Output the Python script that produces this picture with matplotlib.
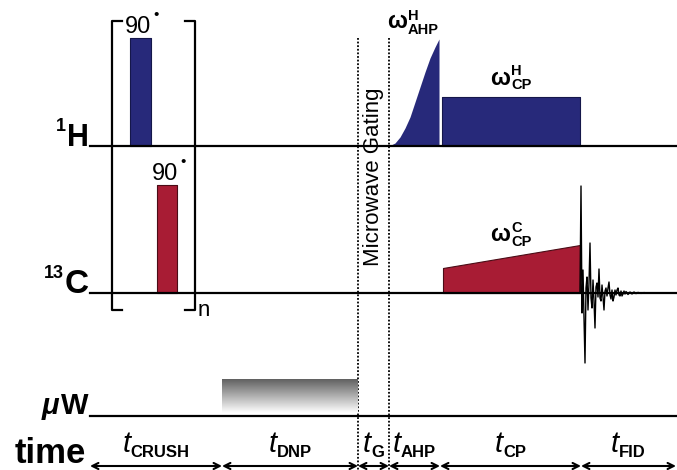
import numpy as np
import matplotlib.pyplot as plt

plt.rcParams['font.family'] = ['Liberation Sans', 'DejaVu Sans']

# time segments of the sequence (schematic units)
time_bounds = [90, 222, 358, 389, 440, 581, 676]
time_labels = ['CRUSH', 'DNP', 'G', 'AHP', 'CP', 'FID']

# 90 degree pulses (start, end, amplitude)
h90 = [130, 151, 108]
c90 = [157, 177, 108]

# adiabatic half passage on 1H
ahp_t = [389, 395, 400, 405, 410, 415, 420, 425, 430, 435, 439]
ahp_amp = [0, 3, 9, 18, 29, 44, 59, 74, 88, 99, 107]

# cross polarisation
cp_h = [442, 580, 49]
cp_c_t = [443, 580]
cp_c_amp = [25, 48]

# FID on 13C
fid_t = [580, 581, 582, 583, 584, 585, 586, 587, 588, 589, 590, 591, 592, 593,
         594, 595, 596, 597, 598, 599, 600, 601, 602, 603, 604, 605, 606, 607,
         608, 609, 610, 611, 612, 613, 614, 615, 616, 617, 618, 619, 620, 621,
         622, 623, 624, 625, 626, 628, 630, 632, 634, 636, 638, 641, 644, 648, 677]
fid_amp = [0, 107, -20, 23, -25, -70, 5, 16, -17, 10, 50, -5, -15, 13,
           -8, -35, 6, 10, -4, 24, -5, -8, 8, -4, -17, 2, 5, -3,
           5, 11, -2, -6, 3, -8, -4, 3, -2, 3, 5, -2, -3, 2,
           -3, -1, 2, -1, 1.5, -1.5, 1, -1, 1, -0.6, 0.6, -0.4, 0.4, 0, 0]

# microwave on during DNP
uw = [222, 358, 34]

# layout (axis units = pixels)
y_h, y_c, y_uw, y_time = 146, 293, 416, 466
blue = '#27297a'
red = '#a81c34'
narrow = ['Liberation Sans Narrow', 'Liberation Sans', 'DejaVu Sans']

fig = plt.figure(figsize=(6.77, 4.70), dpi=100)
ax = fig.add_axes([0, 0, 1, 1])
ax.set_xlim(0, 677)
ax.set_ylim(470, 0)
ax.axis('off')
rend = fig.canvas.get_renderer()


def width(t):
    return t.get_window_extent(rend).width


def scripted(x, y, main, sup=None, sub=None, size=17, ssize=10.5, dsup=-9, dsub=5,
             sfam=None):
    # main glyph with optional super/subscript, left edge at x
    m = ax.text(x, y, main, fontsize=size, fontweight='bold', ha='left', va='baseline')
    xs = x + width(m) + 1
    skw = dict(fontsize=ssize, fontweight='bold', ha='left', va='baseline')
    if sfam:
        skw['family'] = sfam
    if sup:
        ax.text(xs, y + dsup, sup, **skw)
    if sub:
        ax.text(xs, y + dsub, sub, **skw)


def channel(xr, y, main, pre, size=22, psize=13, dpre=-15, pre_kw=None):
    # right aligned channel name ending at xr
    m = ax.text(xr, y, main, fontsize=size, fontweight='bold', ha='right', va='baseline')
    kw = dict(fontsize=psize, fontweight='bold', ha='right', va='baseline')
    kw.update(pre_kw or {})
    ax.text(xr - width(m) - 1, y + dpre, pre, **kw)


# channel lines
for y in (y_h, y_c, y_uw):
    ax.plot([90, 677], [y, y], color='black', lw=1.6, zorder=3)

# 90 pulses
ax.fill_between(h90[:2], y_h, y_h - h90[2], color=blue, ec='#15174a', lw=0.8)
ax.fill_between(c90[:2], y_c, y_c - c90[2], color=red, ec='#4a0c16', lw=0.8)
for p, y in ((h90, y_h), (c90, y_c)):
    xm = (p[0] + p[1]) / 2
    ax.text(xm - 2, y - p[2] - 5, '90', fontsize=17, ha='center', va='baseline')
    ax.text(xm + 16, y - p[2] - 19, '•', fontsize=11, ha='center', va='baseline')

# bracket around crusher loop
for xb, d in ((112, 1), (195, -1)):
    ax.plot([xb + 10 * d, xb, xb, xb + 10 * d], [21, 21, 310, 310], color='black', lw=1.6)
ax.text(198, 316, 'n', fontsize=16, ha='left', va='baseline')

# AHP and CP on 1H
ax.fill_between(ahp_t, y_h, y_h - np.array(ahp_amp), color=blue, lw=0)
ax.fill_between(cp_h[:2], y_h, y_h - cp_h[2], color=blue, ec='#15174a', lw=0.8)

# CP ramp on 13C
ax.fill_between(cp_c_t, y_c, y_c - np.array(cp_c_amp), color=red, ec='#4a0c16', lw=0.8)

# FID
ax.plot(fid_t, y_c - np.array(fid_amp), color='black', lw=1.0, zorder=4)

# microwave gradient block
grad = np.linspace(0.38, 1.0, 100).reshape(-1, 1)
ax.imshow(grad, cmap='gray', vmin=0, vmax=1, aspect='auto',
          extent=[uw[0], uw[1], y_uw - 3, y_uw - 3 - uw[2]], zorder=2)

# dotted gating lines
for xd in time_bounds[2:4]:
    ax.plot([xd, xd], [38, 470], color='black', lw=1.3, ls=(0, (1, 1)), zorder=1)
ax.text((time_bounds[2] + time_bounds[3]) / 2, 177, 'Microwave Gating', fontsize=16,
        rotation=90, ha='center', va='center')

# omega labels
scripted(387, 28, 'ω', 'H', 'AHP', dsup=-8, dsub=6, sfam=narrow)
scripted(490, 85, 'ω', 'H', 'CP', dsup=-10, dsub=4, sfam=narrow)
scripted(490, 241, 'ω', 'C', 'CP', dsup=-9, dsub=5, sfam=narrow)

# channel names
channel(89, y_h, 'H', '1')
channel(89, y_c, 'C', '13', size=24)
channel(88, 414, 'W', 'μ', size=21, psize=21, dpre=0, pre_kw=dict(style='italic'))
ax.text(86, 463, 'time', fontsize=25, fontweight='bold', ha='right', va='baseline')

# time arrows and labels
for i, lab in enumerate(time_labels):
    x0, x1 = time_bounds[i], time_bounds[i + 1]
    ax.annotate('', xy=(x1, y_time), xytext=(x0, y_time),
                arrowprops=dict(arrowstyle='<->', lw=1.5, mutation_scale=11,
                                shrinkA=0, shrinkB=0, color='black'))
    t1 = ax.text(0, 452, 't', fontsize=21, style='italic', ha='left', va='baseline')
    t2 = ax.text(0, 457, lab, fontsize=12, fontweight='bold', ha='left', va='baseline')
    w1, w2 = width(t1), width(t2)
    xl = (x0 + x1) / 2 - (w1 + w2) / 2
    t1.set_x(xl)
    t2.set_x(xl + w1)

plt.savefig('out.png', dpi=100)
